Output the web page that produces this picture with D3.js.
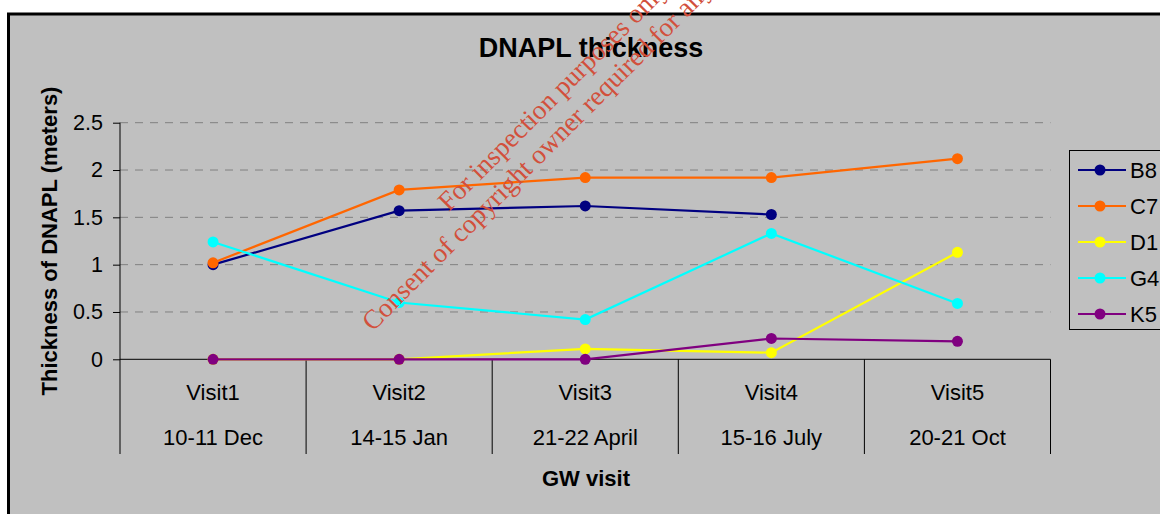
<!DOCTYPE html>
<html>
<head>
<meta charset="utf-8">
<script src="https://cdn.jsdelivr.net/npm/d3@7"></script>
<style>
  body { margin: 0; background: #ffffff; }
  svg { display: block; font-family: "Liberation Sans", Arial, sans-serif; }
</style>
</head>
<body>
<div id="chart"></div>
<script>
// data
var visits = ["Visit1", "Visit2", "Visit3", "Visit4", "Visit5"];
var dates = ["10-11 Dec", "14-15 Jan", "21-22 April", "15-16 July", "20-21 Oct"];
var wells = ["B8", "C7", "D1", "G4", "K5"];
var B8 = [1.0, 1.57, 1.62, 1.53, null];
var C7 = [1.02, 1.79, 1.92, 1.92, 2.12];
var D1 = [0, 0, 0.11, 0.07, 1.13];
var G4 = [1.24, 0.6, 0.42, 1.33, 0.59];
var K5 = [0, 0, 0, 0.22, 0.19];
var yTicks = [0, 0.5, 1, 1.5, 2, 2.5];
var colors = ["#000080", "#ff6600", "#ffff00", "#00ffff", "#800080"];

function main() {
    var canvasWidth = 1160;
    var canvasHeight = 514;

    var svg = d3.select("#chart").append("svg")
        .attr("width", canvasWidth)
        .attr("height", canvasHeight);

    // grey chart area with thick black frame (runs off the right / bottom)
    svg.append("rect")
        .attr("x", 8.5).attr("y", 14)
        .attr("width", 1200).attr("height", 600)
        .attr("fill", "#c0c0c0")
        .attr("stroke", "#000").attr("stroke-width", 3);

    var left = 120, right = 1050.5, top = 122.7, bottom = 359.3;

    var xScale = d3.scaleBand().domain(visits).range([left, right]);
    var yScale = d3.scaleLinear().domain([0, 2.5]).range([bottom, top]);

    // dashed grid lines
    svg.append("g").selectAll("line")
        .data(yTicks.filter(function(d) { return d > 0; }))
        .enter().append("line")
        .attr("x1", left).attr("x2", right)
        .attr("y1", function(d) { return yScale(d); })
        .attr("y2", function(d) { return yScale(d); })
        .attr("stroke", "#808080")
        .attr("stroke-width", 1)
        .attr("stroke-dasharray", "8,7");

    // y axis
    var yAxis = svg.append("g")
        .attr("transform", "translate(" + left + ",0)")
        .call(d3.axisLeft(yScale).tickValues(yTicks).tickSize(7).tickPadding(10)
            .tickFormat(function(d) { return d; }));
    yAxis.select(".domain").remove();
    yAxis.selectAll(".tick line").attr("stroke", "#000");
    yAxis.selectAll(".tick text")
        .attr("font-size", "21.5px")
        .attr("font-family", "Liberation Sans, Arial, sans-serif")
        .attr("fill", "#000");

    // axis lines
    svg.append("line")
        .attr("x1", left).attr("x2", left)
        .attr("y1", top).attr("y2", 454)
        .attr("stroke", "#000");
    svg.append("line")
        .attr("x1", left).attr("x2", right)
        .attr("y1", bottom).attr("y2", bottom)
        .attr("stroke", "#000");

    // category separators
    svg.append("g").selectAll("line")
        .data(visits)
        .enter().append("line")
        .attr("x1", function(d) { return xScale(d) + xScale.bandwidth(); })
        .attr("x2", function(d) { return xScale(d) + xScale.bandwidth(); })
        .attr("y1", bottom).attr("y2", 454)
        .attr("stroke", "#000");

    // category labels (two rows)
    svg.append("g").selectAll("text")
        .data(visits)
        .enter().append("text")
        .attr("x", function(d) { return xScale(d) + xScale.bandwidth() / 2; })
        .attr("y", 399.5)
        .attr("text-anchor", "middle")
        .attr("font-size", "22px")
        .text(function(d) { return d; });

    svg.append("g").selectAll("text")
        .data(dates)
        .enter().append("text")
        .attr("x", function(d, i) { return xScale(visits[i]) + xScale.bandwidth() / 2; })
        .attr("y", 445)
        .attr("text-anchor", "middle")
        .attr("font-size", "22px")
        .text(function(d) { return d; });

    // series
    var seriesData = [B8, C7, D1, G4, K5];
    var line = d3.line()
        .defined(function(d) { return d != null; })
        .x(function(d, i) { return xScale(visits[i]) + xScale.bandwidth() / 2; })
        .y(function(d) { return yScale(d); });

    seriesData.forEach(function(values, s) {
        var g = svg.append("g");
        g.append("path")
            .datum(values)
            .attr("d", line)
            .attr("fill", "none")
            .attr("stroke", colors[s])
            .attr("stroke-width", 2.2);
        g.selectAll("circle")
            .data(values.map(function(v, i) { return {v: v, i: i}; })
                .filter(function(d) { return d.v != null; }))
            .enter().append("circle")
            .attr("cx", function(d) { return xScale(visits[d.i]) + xScale.bandwidth() / 2; })
            .attr("cy", function(d) { return yScale(d.v); })
            .attr("r", 5.5)
            .attr("fill", colors[s]);
    });

    // title and axis titles
    svg.append("text")
        .attr("x", 591).attr("y", 57)
        .attr("text-anchor", "middle")
        .attr("font-size", "27px")
        .attr("font-weight", "bold")
        .text("DNAPL thickness");

    svg.append("text")
        .attr("transform", "translate(57," + ((top + bottom) / 2) + ") rotate(-90)")
        .attr("text-anchor", "middle")
        .attr("font-size", "22px")
        .attr("font-weight", "bold")
        .text("Thickness of DNAPL (meters)");

    svg.append("text")
        .attr("x", 586).attr("y", 485.5)
        .attr("text-anchor", "middle")
        .attr("font-size", "22px")
        .attr("font-weight", "bold")
        .text("GW visit");

    // legend
    var legend = svg.append("g");
    legend.append("rect")
        .attr("x", 1069.5).attr("y", 150.5)
        .attr("width", 120).attr("height", 179)
        .attr("fill", "#c0c0c0")
        .attr("stroke", "#000").attr("stroke-width", 1);
    var item = legend.selectAll(".item")
        .data(wells)
        .enter().append("g")
        .attr("class", "item")
        .attr("transform", function(d, i) { return "translate(0," + (170 + i * 36) + ")"; });
    item.append("line")
        .attr("x1", 1078).attr("x2", 1126)
        .attr("stroke", function(d, i) { return colors[i]; })
        .attr("stroke-width", 2.2);
    item.append("circle")
        .attr("cx", 1100).attr("r", 5.5)
        .attr("fill", function(d, i) { return colors[i]; });
    item.append("text")
        .attr("x", 1130).attr("y", 7.5)
        .attr("font-size", "22px")
        .text(function(d) { return d; });

    // watermark
    var wm = svg.append("g")
        .attr("transform", "translate(561,100) rotate(-45)")
        .attr("font-family", "Liberation Serif, Times New Roman, serif")
        .attr("font-size", "27px")
        .attr("fill", "#d2503c")
        .attr("text-anchor", "middle");
    wm.append("text").attr("x", 0).attr("y", 0).text("For inspection purposes only.");
    wm.append("text").attr("x", 0).attr("y", 31).text("Consent of copyright owner required for any other use.");
}

main();
</script>
</body>
</html>
